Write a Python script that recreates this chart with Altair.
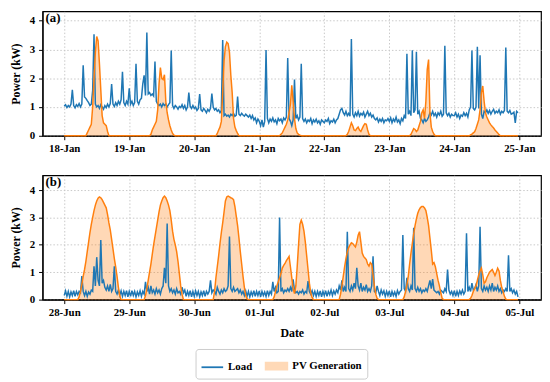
import altair as alt
import pandas as pd

FONT = "Liberation Serif"
BLUE = "#1f77b4"
ORANGE = "#ff7f0e"
LIGHT = "#ffd9b7"

# ---------------- Panel (a): 18-Jan .. 25-Jan, half-hourly load (kW) ----------------
a_start = "2019-01-18 00:00"
a_load_d0 = [1.03, 1.08, 0.98, 1.05, 1.0, 1.1, 1.6, 1.05, 0.97, 1.08, 1.02, 1.12, 1.0, 1.1, 2.45, 1.35,
             1.3, 1.22, 1.15, 1.05, 1.1, 1.58, 3.53, 1.1, 1.0, 1.05, 0.95, 1.08, 1.0, 0.92, 1.05, 0.98,
             1.1, 1.0, 1.12, 1.8, 1.1, 1.02, 1.15, 1.05, 1.2, 1.1, 1.25, 2.22, 1.15, 1.05, 1.2, 1.1]
a_load_d1 = [1.65, 1.1, 1.2, 1.05, 1.15, 2.5, 1.2, 1.1, 1.25, 1.3, 1.8, 2.1, 1.4, 3.59, 1.45, 1.5,
             1.4, 1.45, 1.38, 2.58, 1.2, 1.1, 1.05, 1.1, 1.0, 1.12, 1.05, 1.1, 1.0, 1.08, 1.15, 2.96,
             1.05, 0.95, 1.05, 1.0, 0.92, 1.02, 0.98, 1.08, 0.95, 1.05, 0.9, 1.0, 1.5, 1.02, 0.95, 1.05]
a_load_d2 = [0.95, 1.0, 0.88, 0.95, 1.45, 0.9, 0.85, 0.95, 0.88, 0.8, 0.92, 0.85, 0.95, 1.47, 1.0, 0.9,
             0.95, 0.85, 0.9, 0.8, 0.88, 3.33, 0.7, 0.75, 0.68, 0.72, 0.65, 0.75, 0.7, 0.78, 0.68, 0.72,
             1.36, 0.75, 0.7, 0.78, 0.72, 0.68, 0.75, 0.7, 0.65, 0.72, 0.6, 0.7, 0.55, 0.62, 0.45, 0.58]
a_load_d3 = [0.5, 0.35, 0.55, 0.3, 0.5, 2.98, 0.6, 0.45, 0.58, 0.5, 0.62, 0.48, 0.55, 0.42, 0.6, 0.52,
             0.58, 0.45, 0.62, 0.55, 0.65, 2.7, 0.6, 0.5, 0.35, 0.55, 1.95, 0.6, 0.7, 0.55, 0.65, 2.5,
             0.6, 0.5, 0.58, 0.45, 0.55, 0.5, 0.6, 0.42, 0.55, 0.48, 0.58, 0.45, 0.52, 0.4, 0.55, 0.5]
a_load_d4 = [0.45, 0.55, 0.5, 0.6, 0.42, 0.52, 0.48, 0.58, 0.45, 0.55, 0.6, 0.75, 0.9, 0.95, 0.8, 0.72,
             0.85, 0.7, 0.78, 0.68, 3.36, 0.75, 0.65, 0.8, 0.7, 0.85, 0.68, 0.78, 0.72, 0.82, 0.65, 0.75,
             0.85, 0.7, 0.78, 0.65, 0.72, 0.6, 0.55, 0.62, 0.48, 0.58, 0.5, 0.6, 0.45, 0.55, 0.52, 0.6]
a_load_d5 = [0.5, 0.62, 0.45, 0.58, 0.5, 0.65, 0.48, 0.55, 0.42, 0.6, 0.52, 0.7, 0.6, 2.85, 0.75, 0.85,
             0.7, 2.97, 0.8, 0.9, 2.92, 0.75, 0.85, 0.6, 0.55, 0.45, 0.6, 0.5, 0.55, 0.65, 0.8, 0.72,
             0.85, 0.7, 0.78, 0.65, 0.8, 0.72, 0.85, 0.68, 0.75, 3.13, 0.8, 0.7, 0.78, 0.65, 0.75, 0.7]
a_load_d6 = [0.7, 0.8, 0.65, 0.75, 0.6, 0.72, 0.68, 0.8, 0.7, 0.78, 0.65, 0.9, 1.0, 2.96, 0.95, 0.9,
             1.0, 3.09, 0.95, 2.8, 0.75, 0.6, 0.85, 0.8, 0.9, 0.78, 0.88, 0.75, 0.85, 0.92, 0.78, 0.85,
             0.8, 0.9, 0.75, 0.85, 0.8, 0.88, 3.07, 0.85, 0.8, 0.88, 0.75, 0.78, 0.82, 0.45, 0.85, 0.8]

# PV generation (kW): (first half-hour slot index, values); zero elsewhere
a_pv_18 = (16, [0, 0.1, 0.2, 0.3, 0.4, 1.0, 2.0, 2.9, 3.45, 3.3, 2.5, 1.6, 0.7, 0.45, 0.4, 0.35, 0.15, 0])
a_pv_19 = (63, [0, 0.05, 0.2, 0.3, 0.4, 0.5, 0.9, 1.8, 2.37, 2.0, 1.95, 2.12, 1.2, 0.8, 0.55, 0.35, 0.2, 0.08, 0.02, 0])
a_pv_20 = (112, [0, 0.08, 0.2, 0.3, 0.5, 1.5, 2.6, 3.1, 3.25, 3.2, 2.9, 2.1, 1.5, 0.6, 0.3, 0.18, 0.08, 0])
a_pv_21 = (159, [0, 0.05, 0.1, 0.2, 0.3, 0.4, 0.55, 0.8, 1.1, 1.75, 1.2, 0.6, 0.25, 0.1, 0.05, 0.02, 0])
a_pv_22 = (208, [0, 0.05, 0.15, 0.3, 0.45, 0.35, 0.2, 0.18, 0.25, 0.3, 0.2, 0.15, 0.25, 0.35, 0.42, 0.4, 0.2, 0.05, 0])
a_pv_23 = (255, [0, 0.05, 0.15, 0.25, 0.22, 0.15, 0.2, 0.35, 0.5, 0.8, 0.9, 0.6, 1.2, 2.3, 2.65, 0.8, 0.3, 0.15, 0.05, 0])
a_pv_24 = (299, [0, 0.03, 0.06, 0.1, 0.14, 0.25, 0.4, 0.55, 0.9, 1.5, 1.73, 1.2, 0.8, 0.65, 0.55, 0.45, 0.38,
                 0.32, 0.27, 0.2, 0.15, 0.1, 0.04, 0])

# ---------------- Panel (b): 28-Jun .. 05-Jul ----------------
b_start = "2019-06-28 00:00"
b_load_d0 = [0.15, 0.32, 0.12, 0.3, 0.1, 0.28, 0.15, 0.33, 0.12, 0.3, 0.18, 0.3, 0.25, 0.86, 0.3, 0.15,
             0.3, 0.12, 0.28, 0.2, 0.35, 0.3, 1.22, 0.5, 1.55, 0.7, 0.5, 2.18, 0.6, 0.7, 0.45, 0.35,
             0.5, 0.3, 0.56, 0.3, 0.4, 1.22, 0.3, 0.2, 0.35, 0.15, 0.32, 0.12, 0.3, 0.15, 0.33, 0.1]
b_load_d1 = [0.3, 0.12, 0.33, 0.15, 0.3, 0.1, 0.28, 0.15, 0.32, 0.12, 0.3, 0.2, 0.65, 0.3, 0.45, 0.2,
             0.5, 0.25, 0.35, 0.2, 0.4, 0.25, 0.35, 0.2, 0.4, 0.5, 1.16, 0.6, 2.78, 0.5, 0.3, 0.4,
             0.25, 0.35, 0.2, 0.4, 0.25, 0.3, 0.2, 0.45, 0.25, 0.35, 0.12, 0.3, 0.15, 0.33, 0.1, 0.3]
b_load_d2 = [0.12, 0.32, 0.15, 0.3, 0.1, 0.28, 0.15, 0.33, 0.12, 0.3, 0.2, 0.3, 0.7, 0.25, 0.35, 0.3,
             0.2, 0.45, 0.3, 0.2, 0.35, 0.25, 0.4, 0.3, 0.35, 0.5, 2.3, 0.4, 0.3, 0.45, 0.3, 0.35,
             0.4, 0.25, 0.35, 0.2, 0.3, 0.15, 0.32, 0.12, 0.3, 0.1, 0.28, 0.15, 0.33, 0.12, 0.3, 0.15]
b_load_d3 = [0.32, 0.1, 0.3, 0.15, 0.28, 0.12, 0.33, 0.15, 0.3, 0.2, 0.65, 0.3, 0.45, 0.25, 0.3, 3.0,
             0.3, 0.4, 0.25, 0.35, 0.3, 0.4, 0.3, 0.45, 0.3, 0.74, 0.35, 0.25, 0.3, 0.2, 0.3, 0.25,
             0.35, 0.2, 0.3, 0.25, 0.68, 0.3, 0.2, 0.33, 0.15, 0.3, 0.12, 0.3, 0.15, 0.32, 0.1, 0.3]
b_load_d4 = [0.15, 0.33, 0.12, 0.3, 0.18, 0.35, 0.15, 0.32, 0.2, 0.35, 0.25, 0.5, 0.35, 0.7, 0.3, 0.45,
             0.3, 2.48, 0.4, 0.3, 0.5, 0.35, 0.6, 0.4, 1.16, 0.5, 0.35, 0.6, 0.3, 0.45, 0.35, 0.55,
             0.3, 0.4, 0.3, 0.5, 1.58, 0.3, 0.25, 0.5, 0.3, 0.15, 0.35, 0.2, 0.32, 0.12, 0.3, 0.15]
b_load_d5 = [0.32, 0.1, 0.3, 0.15, 0.28, 0.12, 0.33, 0.2, 0.3, 0.35, 2.36, 0.4, 0.3, 0.8, 0.4, 0.3,
             0.5, 0.35, 2.62, 0.4, 0.3, 0.45, 0.3, 0.4, 0.25, 0.35, 0.3, 0.4, 0.3, 0.5, 0.7, 0.4,
             0.75, 0.35, 0.3, 0.25, 0.3, 0.2, 0.35, 0.3, 0.25, 0.4, 0.3, 1.1, 0.35, 0.2, 0.3, 0.15]
b_load_d6 = [0.33, 0.12, 0.3, 0.15, 0.32, 0.2, 0.35, 0.2, 0.3, 2.42, 0.3, 0.45, 0.3, 0.6, 0.35, 0.4,
             0.55, 0.3, 0.5, 2.66, 0.4, 0.3, 0.5, 0.35, 0.45, 0.3, 0.5, 0.35, 0.6, 0.3, 0.45, 0.35,
             0.5, 0.3, 0.4, 0.25, 0.35, 0.3, 0.4, 0.3, 1.62, 0.3, 0.4, 0.25, 0.35, 0.2, 0.3, 0.1]

b_pv_28 = (10, [0, 0.1, 0.3, 0.55, 0.85, 1.1, 1.4, 1.75, 2.1, 2.45, 2.75, 3.0, 3.25, 3.45, 3.6, 3.7, 3.75,
                3.72, 3.65, 3.55, 3.45, 3.35, 3.1, 2.8, 2.55, 2.2, 1.85, 1.5, 1.2, 0.85, 0.45, 0.15, 0])
b_pv_29 = (59, [0, 0.15, 0.4, 0.7, 1.0, 1.3, 1.65, 2.0, 2.3, 2.6, 2.9, 3.2, 3.45, 3.6, 3.72, 3.78, 3.72,
                3.6, 3.45, 3.25, 2.9, 2.5, 2.2, 2.0, 1.75, 1.4, 0.95, 0.5, 0.2, 0])
b_pv_30 = (110, [0, 0.3, 0.8, 1.2, 1.6, 2.05, 2.45, 2.8, 3.2, 3.6, 3.75, 3.78, 3.75, 3.72, 3.7, 3.65, 3.4,
                 3.05, 2.7, 2.25, 1.75, 1.3, 0.85, 0.45, 0.15, 0.03, 0])
b_pv_01 = (154, [0, 0.1, 0.3, 0.5, 0.65, 0.8, 0.95, 1.15, 1.25, 1.32, 1.42, 1.5, 1.58, 1.2, 0.8, 0.4, 0.22,
                 0.5, 1.2, 2.0, 2.75, 2.9, 2.75, 2.5, 2.1, 1.6, 1.1, 0.6, 0.25, 0.08, 0])
b_pv_02 = (203, [0, 0.2, 0.5, 0.85, 1.2, 1.5, 1.75, 1.9, 2.0, 2.08, 2.05, 1.98, 1.92, 2.1, 2.35, 2.48, 2.1,
                 1.7, 1.58, 1.52, 1.46, 1.3, 1.22, 1.35, 1.3, 0.9, 0.5, 0.2, 0.05, 0])
b_pv_03 = (250, [0, 0.1, 0.3, 0.55, 0.85, 1.3, 1.7, 2.05, 2.4, 2.7, 2.95, 3.15, 3.28, 3.36, 3.4, 3.4, 3.35,
                 3.25, 3.0, 2.7, 2.25, 1.8, 1.3, 1.35, 1.2, 0.95, 0.7, 0.5, 0.25, 0.05, 0])
b_pv_04 = (299, [0, 0.05, 0.15, 0.3, 0.4, 0.5, 0.7, 0.9, 1.05, 1.15, 0.9, 0.6, 0.65, 0.8, 0.9, 1.0, 1.05,
                 1.1, 1.0, 0.88, 1.0, 1.15, 1.05, 0.7, 0.45, 0.3, 0.12, 0.02, 0])

SERIES = ["Load", "PV Generation"]


def make_df(start, load_days, pv_days):
    load = sum(load_days, [])
    pv = [0.0] * len(load)
    for s, vals in pv_days:
        pv[s:s + len(vals)] = vals
    times = pd.date_range(start, periods=len(load), freq="30min")
    return pd.DataFrame({"time": times.strftime("%Y-%m-%dT%H:%M:%SZ"), "load": load, "pv": pv})


def dt(y, m, d, h=0):
    return alt.DateTime(year=y, month=m, date=d, hours=h, utc=True)


def panel(df, label, x_dom, x_ticks, ymax, x_title, with_legend):
    xenc = alt.X("time:T",
                 scale=alt.Scale(type="utc", domain=x_dom, nice=False),
                 axis=alt.Axis(values=x_ticks, format="%d-%b", title=x_title, labelPadding=3,
                               titlePadding=10))
    yscale = alt.Scale(domain=[0, ymax], nice=False, zero=True)
    yax = alt.Axis(values=[0, 1, 2, 3, 4], title="Power (kW)", labelPadding=4, titlePadding=7)
    base = alt.Chart(df)
    area = base.mark_area(color=ORANGE, opacity=0.3).encode(
        x=xenc, y=alt.Y("pv:Q", scale=yscale, axis=yax))
    ld = base.mark_line(color=BLUE, strokeWidth=1.5).encode(x=xenc, y=alt.Y("load:Q", scale=yscale, axis=yax))
    pvl = base.mark_line(color=ORANGE, strokeWidth=1.5).encode(x=xenc, y=alt.Y("pv:Q", scale=yscale, axis=yax))
    txt = alt.Chart(pd.DataFrame({"t": [label]})).mark_text(
        font=FONT, fontWeight="bold", fontSize=13, align="left", baseline="middle", color="black"
    ).encode(text="t:N", x=alt.value(3), y=alt.value(7))
    layers = [area, ld, pvl, txt]
    if with_legend:
        leg = alt.Legend(orient="none", legendX=155, legendY=342, direction="horizontal", title=None,
                         strokeColor="#cccccc", fillColor="white", padding=5, cornerRadius=3,
                         symbolSize=480, symbolStrokeWidth=1.8, symbolOpacity=1,
                         labelFont=FONT, labelFontSize=11, labelFontWeight="bold", labelColor="black",
                         labelOffset=4, columnPadding=9)
        ldf = pd.DataFrame({"series": SERIES})
        lg = alt.Chart(ldf).transform_filter("false").mark_point(filled=True).encode(
            shape=alt.Shape("series:N", scale=alt.Scale(domain=SERIES, range=["stroke", "M-1,-0.33H1V0.33H-1Z"]),
                            legend=leg),
            stroke=alt.Stroke("series:N", scale=alt.Scale(domain=SERIES, range=[BLUE, LIGHT]), legend=leg),
            fill=alt.Fill("series:N", scale=alt.Scale(domain=SERIES, range=[BLUE, LIGHT]), legend=leg),
        )
        layers.append(lg)
    return alt.layer(*layers).properties(width=505, height=126)


df_a = make_df(a_start, [a_load_d0, a_load_d1, a_load_d2, a_load_d3, a_load_d4, a_load_d5, a_load_d6],
               [a_pv_18, a_pv_19, a_pv_20, a_pv_21, a_pv_22, a_pv_23, a_pv_24])
df_b = make_df(b_start, [b_load_d0, b_load_d1, b_load_d2, b_load_d3, b_load_d4, b_load_d5, b_load_d6],
               [b_pv_28, b_pv_29, b_pv_30, b_pv_01, b_pv_02, b_pv_03, b_pv_04])

pa = panel(df_a, "(a)", [dt(2019, 1, 17, 16), dt(2019, 1, 25, 8)],
           [dt(2019, 1, d) for d in range(18, 26)], 4.32, None, False)
pb = panel(df_b, "(b)", [dt(2019, 6, 27, 16), dt(2019, 7, 5, 8)],
           [dt(2019, 6, d) for d in range(28, 31)] + [dt(2019, 7, d) for d in range(1, 6)],
           4.54, "Date", True)

chart = alt.vconcat(pa, pb, spacing=20).properties(
    padding={"left": 0, "top": 0, "right": 0, "bottom": 0}
).configure_view(
    stroke="black", strokeWidth=1.2
).configure_axis(
    labelFont=FONT, labelFontSize=11, labelFontWeight="bold", labelColor="black",
    titleFont=FONT, titleFontSize=12, titleFontWeight="bold", titleColor="black",
    tickColor="black", tickSize=4, domainColor="black", domainWidth=1.2,
    gridColor="#c8c8c8", gridDash=[1.5, 2], gridWidth=1
)

chart.save("out.html", embed_options={"renderer": "svg", "actions": False})
